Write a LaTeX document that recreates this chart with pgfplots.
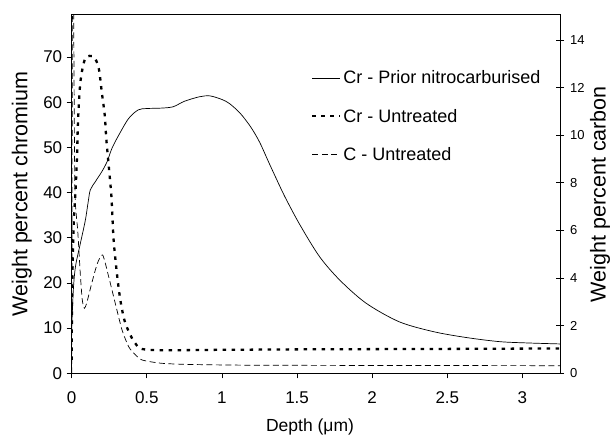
\documentclass[border=0pt]{standalone}
\usepackage{pgfplots}
\pgfplotsset{compat=1.18}
\usepackage{fontspec}
\setmainfont{Liberation Sans}
\begin{document}
\begin{tikzpicture}
\path[use as bounding box] (-71.7pt,-63.7pt) rectangle (543.3pt,373.3pt);
\begin{axis}[
  at={(0pt,0pt)}, anchor=south west,
  scale only axis, width=488.3pt, height=358.3pt,
  xmin=0, xmax=3.25, ymin=0, ymax=79.3,
  xtick={0,0.5,1,1.5,2,2.5,3},
  xticklabels={0,0.5,1,1.5,2,2.5,3},
  ytick={0,10,20,30,40,50,60,70},
  xtick pos=lower, ytick pos=left,
  tick align=outside, major tick length=5pt,
  tick style={black, line width=0.8pt},
  axis line style={black, line width=1pt},
  /pgf/number format/assume math mode=true,
  ticklabel style={font=\fontsize{17}{17}\selectfont},
  xticklabel style={yshift=-10pt},
  yticklabel style={xshift=-1pt},
  xlabel={Depth (μm)},
  x label style={at={(axis description cs:0.488,-0.162)}, anchor=base, font=\fontsize{17.5}{17.5}\selectfont},
  ylabel={Weight percent chromium},
  y label style={at={(axis description cs:-0.102,0.5)}, anchor=center, rotate=0, font=\fontsize{21.5}{21.5}\selectfont},
  legend style={draw=none, fill=none, at={(axis description cs:0.49,0.85)}, anchor=north west,
    font=\fontsize{18}{18}\selectfont, row sep=19.5pt, inner sep=0pt},
  legend cell align=left,
  legend image code/.code={\draw[#1] (0pt,0pt) -- (28pt,0pt);},
]
\addplot[black, line width=0.7pt, smooth, tension=0.5] coordinates {
(0,9.6) (0.01,18) (0.025,23.6) (0.058,28.8) (0.091,33.9) (0.11,38) (0.124,40.6)
(0.157,42.4) (0.2,44.6) (0.235,46.8) (0.268,49.8) (0.313,52.7) (0.379,56.4)
(0.443,58.3) (0.5,58.6) (0.6,58.7) (0.676,59.0) (0.75,60.2) (0.85,61.2) (0.92,61.4)
(1.0,60.6) (1.05,59.7) (1.12,57.6) (1.19,54.6) (1.25,51.2) (1.31,46.8) (1.36,43.2)
(1.42,39.0) (1.52,32.8) (1.65,25.8) (1.785,20.6) (1.96,15.5) (2.18,11.4) (2.41,9.2)
(2.63,7.9) (2.85,7.0) (3.05,6.7) (3.25,6.5)};
\addlegendentry{Cr - Prior nitrocarburised}
\addplot[black, line width=2.3pt, dash pattern=on 3.5pt off 5.5pt, smooth, tension=0.5] coordinates {
(0,3) (0.003,18) (0.013,33) (0.024,39.4) (0.035,47.6) (0.042,55.7) (0.058,64.5)
(0.091,69.7) (0.147,70) (0.18,67.5) (0.2,62.3) (0.22,57.1) (0.23,52) (0.246,46.1)
(0.262,40.2) (0.268,36.9) (0.279,29.5) (0.301,22.1) (0.324,16.2) (0.357,11.1)
(0.424,6.6) (0.512,5.2) (1,5.2) (1.5,5.3) (2,5.35) (2.5,5.4) (3.25,5.5)};
\addlegendentry{Cr - Untreated}
\addlegendimage{black, line width=0.7pt, dash pattern=on 6pt off 3.5pt}
\addlegendentry{C - Untreated}
\end{axis}
\begin{axis}[
  at={(0pt,0pt)}, anchor=south west,
  scale only axis, width=488.3pt, height=358.3pt,
  xmin=0, xmax=3.25, ymin=0, ymax=15.05,
  axis x line=none, axis y line*=right,
  ytick={0,2,4,6,8,10,12,14},
  tick align=center, major tick length=8pt,
  tick style={black, line width=0.8pt},
  axis line style={black, line width=1pt},
  /pgf/number format/assume math mode=true,
  yticklabel style={font=\fontsize{13}{13}\selectfont, xshift=2.5pt},
  ylabel={Weight percent carbon},
  y label style={at={(axis description cs:1.082,0.5)}, anchor=center, rotate=0, font=\fontsize{21.5}{21.5}\selectfont},
]
\addplot[black, line width=0.7pt, dash pattern=on 6pt off 3.5pt, smooth, tension=0.4] coordinates {
(0,0) (0.006,18) (0.012,16) (0.016,12) (0.022,7.5) (0.04,6.0) (0.057,4.2) (0.07,3.1)
(0.084,2.73) (0.1,2.95) (0.13,3.7) (0.17,4.6) (0.206,4.97) (0.246,4.06) (0.29,2.94)
(0.335,1.82) (0.379,1.12) (0.42,0.8) (0.468,0.56) (0.6,0.42) (0.8,0.37) (1.2,0.34)
(2,0.33) (3.25,0.32)};
\end{axis}
\end{tikzpicture}
\end{document}
